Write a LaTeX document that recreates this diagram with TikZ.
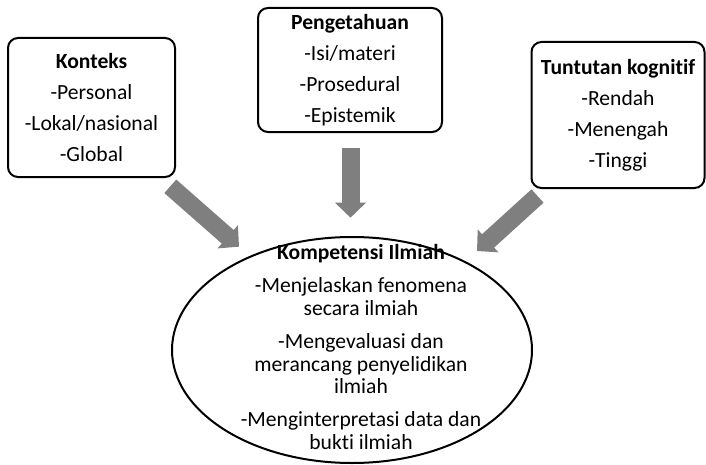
\documentclass[tikz,border=0pt]{standalone}
\usepackage{fontspec}
\setmainfont[Ligatures=NoCommon]{Carlito}
\usetikzlibrary{arrows.meta,shapes.geometric}
\definecolor{abu}{HTML}{7F7F7F}

\begin{document}
\begin{tikzpicture}[x=0.5pt,y=-0.5pt,
  kotak/.style={draw,line width=1pt,rounded corners=5pt,align=center,inner sep=0pt,
    font=\fontsize{10.8}{15.5}\selectfont},
  panah/.style={draw=abu,line width=9pt,-{Triangle[width=15pt,length=7.5pt]}}]

\useasboundingbox (0,0) rectangle (706,465);

\node[kotak,minimum width=83.5pt,minimum height=69.5pt] (konteks) at (91.5,107.5)
  {\textbf{Konteks}\\-Personal\\-Lokal/nasional\\-Global};

\node[kotak,minimum width=92pt,minimum height=62pt] (pengetahuan) at (350,70)
  {\textbf{Pengetahuan}\\-Isi/materi\\-Prosedural\\-Epistemik};

\node[kotak,minimum width=86.5pt,minimum height=73pt] (tuntutan) at (618,115)
  {\textbf{Tuntutan kognitif}\\-Rendah\\-Menengah\\-Tinggi};

\node[ellipse,draw,line width=1pt,minimum width=180pt,minimum height=113pt,inner sep=0pt]
  (kompetensi) at (352,350) {};
\node[align=center,inner sep=0pt,font=\fontsize{10.8}{11.25}\selectfont] (isi) at (361,347)
  {\textbf{Kompetensi Ilmiah}\\[5.4pt]
   -Menjelaskan fenomena\\secara ilmiah\\[5.4pt]
   -Mengevaluasi dan\\merancang penyelidikan\\ilmiah\\[5.4pt]
   -Menginterpretasi data dan\\bukti ilmiah};

\coordinate (k1) at (170.3,186.3);
\coordinate (k2) at (239,246.7);
\coordinate (p1) at (350.5,148);
\coordinate (p2) at (350.5,217.7);
\coordinate (t1) at (537.5,196);
\coordinate (t2) at (477,251);

\draw[panah] (k1) -- (k2);
\draw[panah] (p1) -- (p2);
\draw[panah] (t1) -- (t2);

\end{tikzpicture}
\end{document}
